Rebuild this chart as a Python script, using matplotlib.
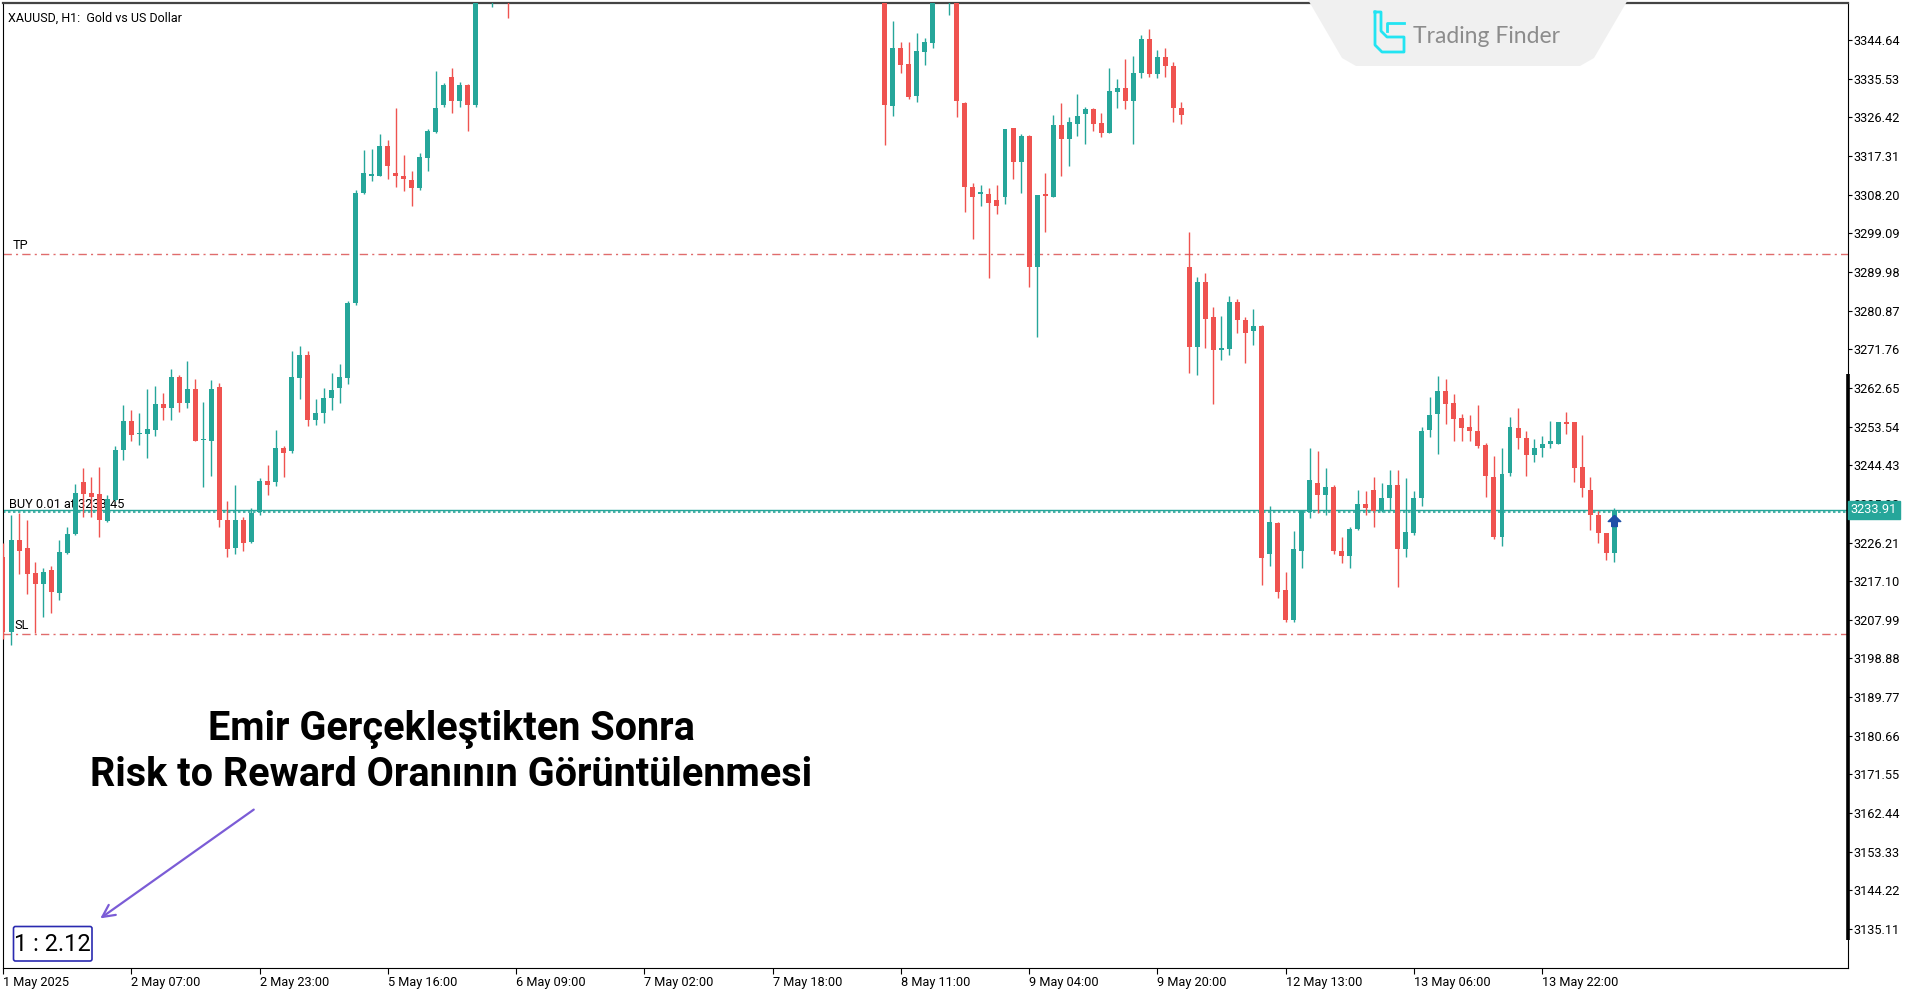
import numpy as np
import matplotlib
matplotlib.use('Agg')
import matplotlib.pyplot as plt
from matplotlib.patches import Polygon, FancyBboxPatch
from matplotlib.path import Path

# ---- data (H1 candles, index 0 = first bar on screen; None = above visible range)
opens = [
    3222.9, 3205.2, 3226.8, 3224.8, 3219.1, 3216.4, 3219.7, 3214.4, 3223.7, 3228.2,
    3240.4, 3237.8, 3237.6, 3231.3, 3236.2, 3248.0, 3254.9, 3251.7, 3251.7, 3252.7,
    3258.9, 3257.8, 3265.1, 3259.2, 3262.5, 3250.3, 3250.2, 3262.8, 3231.5, 3224.8,
    3231.5, 3226.4, 3233.4, 3240.7, 3240.4, 3248.5, 3247.7, 3265.0, 3270.5, 3255.0,
    3256.8, 3260.3, 3262.7, 3265.0, 3282.6, 3308.6, 3312.7, 3312.7, 3319.6, 3313.3,
    3312.7, 3311.6, 3309.7, 3316.8, 3323.0, 3329.4, 3335.9, 3330.2, 3334.0, 3329.4,
    None, 3358.0, None, 3370.0] + [None] * 46 + [
    3365.0, 3329.1, 3342.7, 3339.0, 3331.4, 3341.7, 3343.9, None, 3358.0, 3365.0,
    3329.9, 3310.1, 3308.4, 3308.3, 3306.9, 3307.6, 3323.8, 3316.0, 3322.0, 3291.1,
    3308.3, 3307.7, 3324.6, 3321.2, 3324.9, 3327.2, 3328.3, 3325.0, 3322.8, 3332.5,
    3333.3, 3330.3, 3336.9, 3344.9, 3336.6, 3340.7, 3338.5, 3328.5, 3291.2, 3272.4,
    3287.5, 3279.3, 3271.6, 3271.7, 3282.9, 3278.7, 3276.1, 3277.2, 3223.5, 3230.7,
    3214.9, 3207.9, 3224.3, 3233.5, 3240.2, 3237.4, 3239.4, 3224.1, 3223.0, 3229.5,
    3235.3, 3238.7, 3233.7, 3236.6, 3239.8, 3224.6, 3228.5, 3236.6, 3252.7, 3256.5,
    3262.0, 3259.2, 3255.5, 3253.5, 3252.6, 3249.2, 3241.6, 3227.4, 3242.7, 3253.1,
    3250.8, 3246.8, 3248.6, 3249.4, 3249.4, 3254.5, 3254.5, 3244.1, 3238.7, 3232.7,
    3228.4, 3223.8]
highs = [
    3226.0, 3232.7, 3233.1, 3231.5, 3221.7, 3220.3, 3220.7, 3226.8, 3229.9, 3239.9,
    3243.7, 3241.7, 3244.1, 3237.4, 3249.0, 3258.6, 3257.4, 3256.8, 3262.3, 3263.1,
    3261.5, 3267.0, 3265.7, 3269.1, 3264.7, 3259.4, 3264.5, 3263.9, 3236.1, 3239.8,
    3232.3, 3234.3, 3241.4, 3244.5, 3252.7, 3249.0, 3271.3, 3272.6, 3271.3, 3260.1,
    3262.7, 3266.1, 3268.3, 3283.2, 3309.2, 3318.7, 3319.0, 3322.4, 3321.1, 3328.7,
    3317.5, 3313.8, 3318.1, 3323.7, 3337.4, 3334.6, 3338.0, 3334.8, 3334.3, 3376.0,
    None, 3368.0, None, 3375.0] + [None] * 46 + [
    3372.0, 3349.0, 3344.1, 3344.1, 3346.4, 3345.0, 3362.0, None, 3366.0, 3370.0,
    3330.0, 3310.9, 3310.5, 3309.7, 3310.5, 3323.6, 3324.0, 3322.6, 3322.2, 3308.0,
    3313.2, 3327.0, 3329.9, 3326.6, 3331.9, 3328.8, 3328.7, 3327.4, 3338.1, 3335.4,
    3340.1, 3340.9, 3345.8, 3347.2, 3342.3, 3342.7, 3339.5, 3330.1, 3299.5, 3288.7,
    3289.8, 3281.8, 3279.6, 3284.3, 3283.5, 3279.4, 3281.2, 3277.5, 3234.7, 3231.1,
    3219.3, 3229.0, 3233.9, 3248.4, 3247.8, 3243.7, 3239.8, 3227.6, 3229.8, 3238.7,
    3238.4, 3241.7, 3240.2, 3243.3, 3243.3, 3241.3, 3238.4, 3253.5, 3260.6, 3265.4,
    3264.8, 3261.2, 3256.5, 3256.2, 3258.6, 3249.7, 3246.6, 3248.6, 3255.9, 3257.8,
    3252.6, 3250.5, 3251.3, 3254.9, 3254.7, 3257.0, 3254.7, 3251.5, 3241.6, 3233.7,
    3228.4, 3234.3]
lows = [
    3203.5, 3202.1, 3218.9, 3214.1, 3205.0, 3208.7, 3209.7, 3212.7, 3223.5, 3228.0,
    3232.3, 3232.3, 3227.4, 3231.1, 3236.0, 3245.7, 3250.2, 3249.3, 3246.2, 3251.3,
    3255.1, 3255.1, 3257.0, 3257.8, 3250.2, 3239.4, 3241.9, 3229.8, 3222.7, 3223.5,
    3224.1, 3226.0, 3232.6, 3237.5, 3239.5, 3241.7, 3247.3, 3260.1, 3253.6, 3254.0,
    3254.4, 3257.5, 3259.0, 3263.5, 3282.3, 3308.3, 3311.4, 3312.5, 3311.8, 3310.1,
    3309.0, 3305.6, 3309.4, 3313.8, 3322.7, 3328.9, 3327.4, 3328.8, 3323.3, 3328.9,
    None, 3352.3, None, 3349.9] + [None] * 46 + [
    3319.9, 3326.7, 3336.8, 3330.7, 3330.0, 3338.8, 3342.8, None, 3350.5, 3326.4,
    3304.2, 3297.7, 3305.4, 3288.5, 3303.6, 3306.0, 3311.8, 3308.5, 3286.5, 3274.6,
    3299.5, 3307.7, 3312.6, 3315.0, 3322.0, 3320.2, 3323.3, 3321.7, 3322.8, 3328.5,
    3328.3, 3320.1, 3335.8, 3336.0, 3335.6, 3336.0, 3325.2, 3324.8, 3266.2, 3265.8,
    3272.1, 3258.8, 3269.2, 3270.4, 3275.5, 3268.4, 3272.7, 3216.2, 3220.7, 3213.1,
    3207.5, 3207.5, 3220.1, 3231.9, 3233.1, 3232.7, 3223.4, 3221.3, 3220.1, 3229.2,
    3232.7, 3229.8, 3233.5, 3233.9, 3215.8, 3222.9, 3228.0, 3234.8, 3251.0, 3247.1,
    3254.1, 3250.2, 3250.2, 3250.2, 3248.4, 3237.0, 3227.0, 3225.4, 3241.9, 3248.2,
    3241.9, 3245.3, 3246.3, 3248.4, 3249.4, 3251.9, 3240.5, 3237.0, 3229.2, 3226.0,
    3222.2, 3221.7]
closes = [
    3205.2, 3226.8, 3224.3, 3218.9, 3216.4, 3219.3, 3214.6, 3224.0, 3228.1, 3237.8,
    3237.6, 3237.0, 3231.5, 3236.4, 3248.0, 3254.9, 3251.6, 3251.9, 3252.9, 3258.9,
    3257.8, 3265.1, 3259.0, 3262.5, 3250.2, 3250.4, 3262.5, 3231.4, 3224.6, 3231.4,
    3226.0, 3233.1, 3240.6, 3239.7, 3248.5, 3247.3, 3265.1, 3270.5, 3255.0, 3256.8,
    3260.3, 3262.2, 3265.1, 3282.6, 3308.6, 3313.3, 3313.0, 3319.6, 3314.9, 3312.7,
    3311.8, 3309.7, 3317.0, 3323.3, 3328.5, 3334.0, 3330.2, 3334.0, 3329.4, 3372.0,
    None, 3364.0, None, 3362.0] + [None] * 46 + [
    3329.3, 3342.7, 3338.8, 3331.3, 3342.1, 3344.1, 3358.0, None, 3362.0, 3330.3,
    3310.1, 3307.7, 3308.6, 3306.2, 3305.5, 3323.6, 3316.0, 3322.0, 3291.1, 3308.0,
    3307.9, 3324.6, 3321.2, 3325.2, 3326.7, 3328.3, 3324.9, 3322.8, 3332.7, 3333.3,
    3330.3, 3336.9, 3344.9, 3336.6, 3340.7, 3338.5, 3328.5, 3327.0, 3272.4, 3287.5,
    3278.9, 3271.6, 3272.0, 3282.9, 3278.7, 3275.7, 3277.2, 3222.6, 3231.1, 3214.6,
    3207.9, 3224.7, 3233.7, 3240.9, 3237.4, 3239.4, 3224.1, 3223.0, 3229.5, 3235.3,
    3234.3, 3233.7, 3236.6, 3239.8, 3224.6, 3228.8, 3236.6, 3252.6, 3256.2, 3262.0,
    3258.8, 3255.2, 3253.1, 3252.5, 3249.0, 3241.9, 3227.4, 3242.4, 3253.5, 3250.8,
    3246.8, 3248.6, 3249.4, 3250.2, 3254.7, 3254.1, 3243.7, 3239.0, 3232.7, 3228.4,
    3223.8, 3233.9]

time_labels = ['1 May 2025', '2 May 07:00', '2 May 23:00', '5 May 16:00', '6 May 09:00',
               '7 May 02:00', '7 May 18:00', '8 May 11:00', '9 May 04:00', '9 May 20:00',
               '12 May 13:00', '13 May 06:00', '13 May 22:00']
label_step = 16

price_ticks = [3135.11 + 9.11 * k for k in range(24)]

tp_price = 3294.3
sl_price = 3204.75
entry_price = 3233.45
bid_price = 3233.91

bull_color = '#26a69a'
bear_color = '#ef5350'
level_color = '#e06c6c'
small_font = ['Roboto', 'DejaVu Sans']
fs = 9.2

W, H = 1919, 996
fig = plt.figure(figsize=(W / 100, H / 100), dpi=100)
ax = fig.add_axes((3 / W, 1 - 968 / H, (1848 - 3) / W, 965 / H))

o = np.array(opens, dtype=float)
h = np.array(highs, dtype=float)
l = np.array(lows, dtype=float)
c = np.array(closes, dtype=float)
idx = np.arange(len(o))
ok = ~np.isnan(o)
up = ok & (c >= o)
dn = ok & (c < o)

# wicks then bodies
wick_col = np.where(c >= o, bull_color, bear_color)
ax.vlines(idx[ok], l[ok], h[ok], colors=wick_col[ok], lw=1.0, zorder=3)
body_lo = np.minimum(o, c)
body_h = np.maximum(np.abs(c - o), 0.3)
ax.bar(idx[up], body_h[up], bottom=body_lo[up], width=0.62, color=bull_color, lw=0, zorder=4)
ax.bar(idx[dn], body_h[dn], bottom=body_lo[dn], width=0.62, color=bear_color, lw=0, zorder=4)

# trade levels
ax.axhline(tp_price, color=level_color, lw=1.0, ls=(0, (6, 3, 1.5, 3)), zorder=2)
ax.axhline(sl_price, color=level_color, lw=1.0, ls=(0, (6, 3, 1.5, 3)), zorder=2)
ax.axhline(bid_price, color=bull_color, lw=1.0, zorder=2)
ax.axhline(entry_price, color=bull_color, lw=1.2, ls=(0, (1.5, 1.5)), zorder=2)

ax.text(1.2, tp_price + 0.3, 'TP', fontsize=fs, family=small_font, va='bottom', zorder=1)
ax.text(1.4, sl_price + 0.3, 'SL', fontsize=fs, family=small_font, va='bottom', zorder=1)
ax.text(0.8, bid_price - 0.2, 'BUY 0.01 at {:.2f}'.format(entry_price), fontsize=fs,
        family=small_font, va='bottom', zorder=1)

# buy arrow on last bar
arrow_marker = Path([(0, 1), (1, 0), (0.45, 0), (0.45, -0.8), (-0.45, -0.8), (-0.45, 0), (-1, 0), (0, 1)])
ax.plot(idx[-1], entry_price - 2.2, marker=arrow_marker, ms=9, color='#1f50a8', zorder=6)

x_right = (1848 - 3) / 8.016
ax.set_xlim(0, x_right)
ax.set_ylim(3125.93, 3353.36)

ax.set_xticks(np.arange(len(time_labels)) * label_step)
ax.set_xticklabels(time_labels, ha='left', fontsize=fs, family=small_font)
ax.set_yticks(price_ticks)
ax.set_yticklabels(['{:.2f}'.format(p) for p in price_ticks], fontsize=fs, family=small_font)
ax.yaxis.tick_right()
ax.tick_params(axis='y', direction='out', length=3, width=0.8, pad=1)
ax.tick_params(axis='x', direction='out', length=4, width=0.8, pad=2)
for s in ['left', 'right', 'bottom']:
    ax.spines[s].set_color('black')
    ax.spines[s].set_linewidth(0.8)
ax.spines['top'].set_color('#444444')
ax.spines['top'].set_linewidth(1.6)

# heavy part of the price scale
ax.plot([1, 1], [3266.0, 3132.5], transform=ax.get_yaxis_transform(), color='black',
        lw=2.6, solid_capstyle='butt', clip_on=False, zorder=5)

# current price tag
ax.text(1.0015, bid_price, '{:.2f}'.format(bid_price), transform=ax.get_yaxis_transform(),
        fontsize=fs, family=small_font, color='white', va='center', ha='left', zorder=7,
        bbox=dict(boxstyle='square,pad=0.22', fc=bull_color, ec=bull_color), clip_on=False)

ax.text(0.0025, 0.991, 'XAUUSD, H1:  Gold vs US Dollar', transform=ax.transAxes,
        fontsize=9.0, family=small_font, va='top', ha='left')

# ---- overlay in pixel coordinates
ov = fig.add_axes((0, 0, 1, 1))
ov.set_xlim(0, W)
ov.set_ylim(H, 0)
ov.axis('off')
ov.patch.set_alpha(0)

# logo tab
ov.add_patch(Polygon([(1307, -2), (1342, 58), (1356, 66), (1580, 66), (1594, 58), (1629, -2)],
                     closed=True, fc='#f0f0f0', ec='none'))
ov.plot([1375, 1381, 1381, 1387, 1404, 1404, 1382, 1375, 1375],
        [12, 12, 31, 37, 37, 52, 52, 45, 12], color='#22e4f2', lw=2)
ov.plot([1404, 1387, 1387], [23, 23, 31], color='#22e4f2', lw=2)
ov.text(1413, 36, 'Trading Finder', fontsize=16.5, family=['Lato', 'DejaVu Sans'],
        color='#8c8c8c', va='center', ha='left')

# caption + arrow + ratio box
ov.text(451.5, 752, 'Emir Gerçekleştikten Sonra\nRisk to Reward Oranının Görüntülenmesi',
        ha='center', va='center', fontsize=28.5, fontweight='bold',
        family=['Roboto', 'DejaVu Sans'], linespacing=1.25)
ov.annotate('', xy=(98, 920), xytext=(256, 808),
            arrowprops=dict(arrowstyle='->', color='#7b5cd6', lw=1.6, mutation_scale=22))
ov.add_patch(FancyBboxPatch((13.5, 926.5), 78.5, 34.5, boxstyle='round,pad=0,rounding_size=2',
                            fc='white', ec='#2a2ab0', lw=1.2))
rr = (tp_price - entry_price) / (entry_price - sl_price)
ov.text(52.7, 944, '1 : {:.2f}'.format(rr), ha='center', va='center', fontsize=17,
        family=['Liberation Sans Narrow', 'Roboto'])

fig.savefig('out.png', dpi=100)
